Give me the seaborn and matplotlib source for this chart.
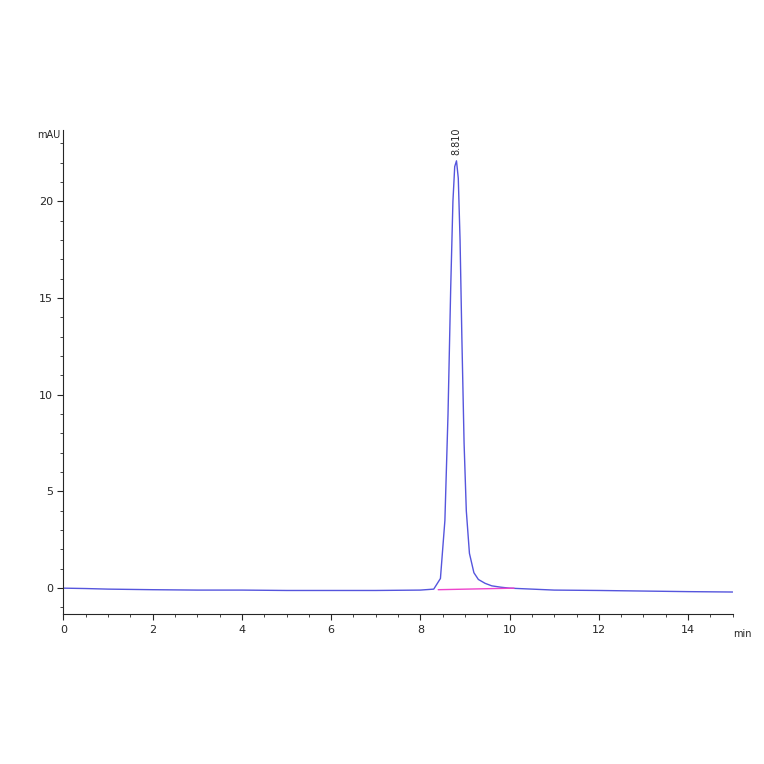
import numpy as np
import pandas as pd
import matplotlib
matplotlib.use('Agg')
import matplotlib.pyplot as plt
import seaborn as sns
from matplotlib.ticker import MultipleLocator

# chromatogram trace (min, mAU)
time = [0.0, 0.5, 1.0, 2.0, 3.0, 4.0, 5.0, 6.0, 7.0, 8.0, 8.3, 8.45, 8.55, 8.62, 8.68,
        8.73, 8.77, 8.81, 8.85, 8.89, 8.93, 8.98, 9.03, 9.1, 9.2, 9.3, 9.45, 9.6, 9.8,
        10.0, 10.5, 11.0, 12.0, 13.0, 14.0, 15.0]
signal = [0.0, -0.02, -0.05, -0.08, -0.1, -0.1, -0.12, -0.12, -0.12, -0.1, -0.05, 0.5, 3.5,
          9.0, 15.5, 20.0, 21.8, 22.1, 21.2, 18.0, 13.0, 7.5, 4.0, 1.8, 0.8, 0.45, 0.25,
          0.12, 0.05, 0.0, -0.05, -0.1, -0.12, -0.15, -0.18, -0.2]
base_t = [8.4, 10.1]
base_y = [-0.08, 0.0]
peak_rt = 8.810
peak_h = 22.1

df = pd.DataFrame({'time': time, 'signal': signal})

sns.set_style('ticks')
fig = plt.figure(figsize=(7.64, 7.64), dpi=100)
ax = fig.add_axes([0.083, 0.196, 0.876, 0.634])
sns.lineplot(data=df, x='time', y='signal', ax=ax, color='#5555dd', linewidth=1.0)
ax.plot(base_t, base_y, color='#ee44cc', linewidth=1.0)
ax.text(peak_rt, peak_h + 0.3, f'{peak_rt:.3f}', rotation=90, ha='center', va='bottom', fontsize=7)

ax.set_xlim(0, 15)
ax.set_ylim(-1.35, 23.7)
ax.xaxis.set_major_locator(MultipleLocator(2))
ax.xaxis.set_minor_locator(MultipleLocator(0.5))
ax.yaxis.set_major_locator(MultipleLocator(5))
ax.yaxis.set_minor_locator(MultipleLocator(1))
ax.tick_params(labelsize=8, length=4)
ax.tick_params(which='minor', length=2)
ax.set_xlabel('')
ax.set_ylabel('')
sns.despine(ax=ax)
ax.text(1.0, -0.03, 'min', transform=ax.transAxes, ha='left', va='top', fontsize=7)
ax.text(-0.005, 1.0, 'mAU', transform=ax.transAxes, ha='right', va='top', fontsize=7)
fig.savefig('out.png', dpi=100)
